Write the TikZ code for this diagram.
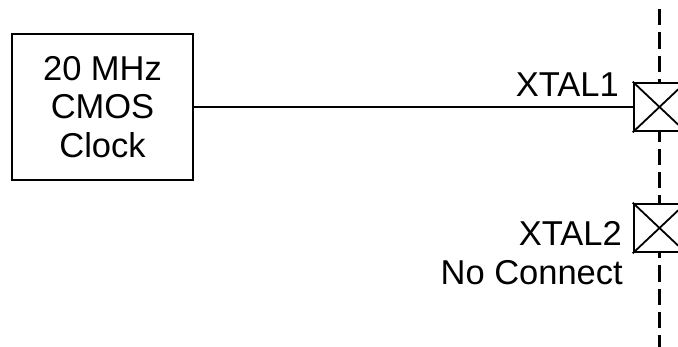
\documentclass[tikz,border=0pt]{standalone}
\usepackage{fontspec}
\setmainfont{Liberation Sans}
\tikzset{
  x=1pt,y=-1pt,
  clockbox/.style={draw,line width=2pt,minimum width=181pt,minimum height=146pt,inner sep=0pt,align=center,font=\fontsize{34.5}{38.5}\selectfont},
  padbox/.style={draw,line width=2.6pt,minimum width=51pt,minimum height=48pt,inner sep=0pt},
  lbl/.style={inner sep=0pt,font=\fontsize{34.5}{38}\selectfont},
  wire/.style={line width=1.6pt},
  diag/.style={line width=1.8pt},
  bound/.style={line width=3pt,dash pattern=on 16.4pt off 6.9pt}
}
\begin{document}
\begin{tikzpicture}
\useasboundingbox (0,0) rectangle (678,347);
\coordinate (top) at (659.5,9);
\coordinate (bot) at (659.5,347);
\node[clockbox] (clk) at (102.5,107) {20 MHz\\CMOS\\Clock};
\draw[bound] (top) -- (bot);
\node[padbox,fill=white] (p1) at (659.5,107) {};
\node[padbox,fill=white] (p2) at (659.5,228) {};
\draw[diag] (p1.north west) -- (p1.south east) (p1.south west) -- (p1.north east);
\draw[diag] (p2.north west) -- (p2.south east) (p2.south west) -- (p2.north east);
\draw[wire] (clk.east) -- (p1.west);
\node[lbl,anchor=base east] (x1) at (619,97) {XTAL1};
\node[lbl,anchor=base east] (x2) at (622,246) {XTAL2};
\node[lbl,anchor=base east] (nc) at (623,285) {No Connect};
\end{tikzpicture}
\end{document}
